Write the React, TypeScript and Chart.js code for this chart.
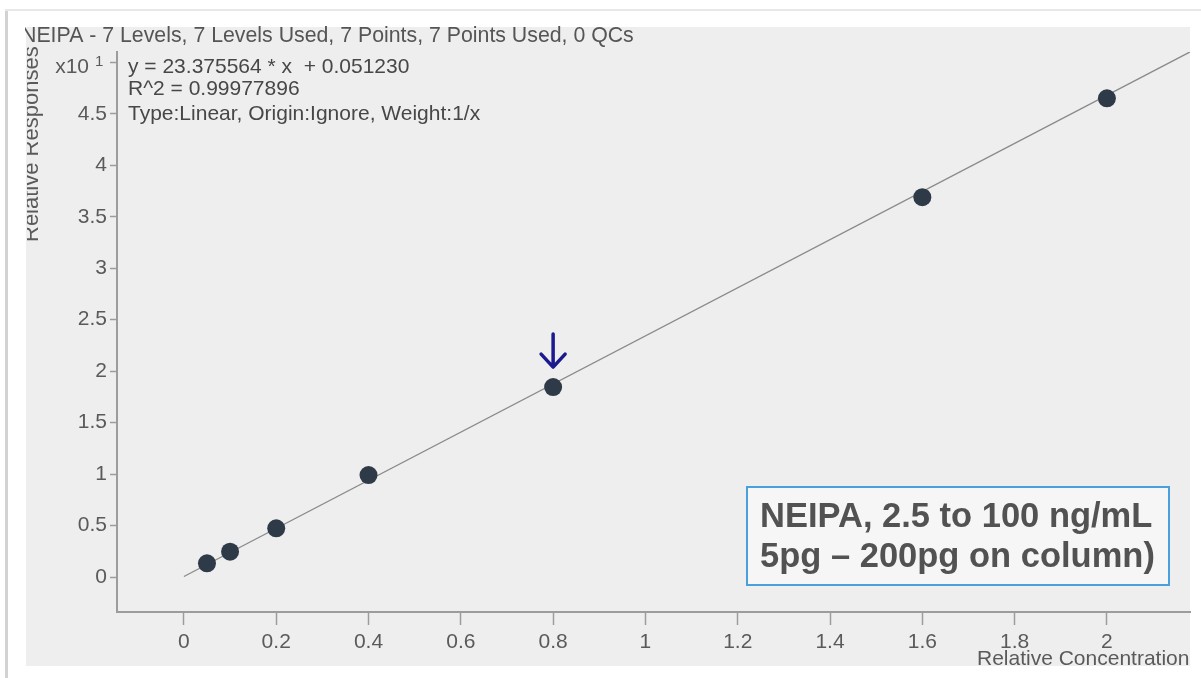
import React, { useEffect, useRef } from 'react';
import { Chart, registerables } from 'chart.js';

Chart.register(...registerables);

// ---- data ----
const concentrations = [0.05, 0.1, 0.2, 0.4, 0.8, 1.6, 2.0];
const responses = [0.133, 0.246, 0.473, 0.99, 1.845, 3.69, 4.65]; // shown in units of x10^1
const fitSlope = 2.3375564; // 23.375564 on the x10^1 axis
const fitIntercept = 0.005123; // 0.051230 on the x10^1 axis
const xTicks = [0, 0.2, 0.4, 0.6, 0.8, 1, 1.2, 1.4, 1.6, 1.8, 2];
const yTicks = [0, 0.5, 1, 1.5, 2, 2.5, 3, 3.5, 4, 4.5, 5];
const xRange = [-0.145, 2.18];
const yRange = [-0.34, 5.1];
const highlightIndex = 4;

const titleText = 'NEIPA - 7 Levels, 7 Levels Used, 7 Points, 7 Points Used, 0 QCs';
const equationLines = [
  'y = 23.375564 * x  + 0.051230',
  'R^2 = 0.99977896',
  'Type:Linear, Origin:Ignore, Weight:1/x',
];
const xAxisTitle = 'Relative Concentration';
const yAxisTitle = 'Relative Responses';
const exponentBase = 'x10';
const exponentPower = '1';
const boxLines = ['NEIPA, 2.5 to 100 ng/mL', '5pg \u2013 200pg on column)'];

const FONT = '"Liberation Sans", Arial, sans-serif';

const decorPlugin = {
  id: 'decor',
  beforeDraw(chart: any) {
    const ctx = chart.ctx;
    ctx.save();
    ctx.fillStyle = '#ffffff';
    ctx.fillRect(0, 0, chart.width, chart.height);
    // panel
    ctx.fillStyle = '#eeeeee';
    ctx.fillRect(26, 27, 1164, 639);
    // frame lines
    ctx.fillStyle = '#d2d2d2';
    ctx.fillRect(5, 10, 3, chart.height - 10);
    ctx.fillStyle = '#e8e8e8';
    ctx.fillRect(5, 9, chart.width - 5, 2);
    ctx.restore();
  },
  afterDraw(chart: any) {
    const ctx = chart.ctx;
    const xs = chart.scales.x;
    const ys = chart.scales.y;
    ctx.save();

    // title (clipped at panel left)
    ctx.save();
    ctx.beginPath();
    ctx.rect(25, 0, chart.width, chart.height);
    ctx.clip();
    ctx.fillStyle = '#555555';
    ctx.font = `21.3px ${FONT}`;
    ctx.textBaseline = 'middle';
    ctx.textAlign = 'left';
    ctx.fillText(titleText, 21, 36);
    ctx.restore();

    // equation text
    ctx.fillStyle = '#474747';
    ctx.font = `21px ${FONT}`;
    ctx.textBaseline = 'middle';
    ctx.textAlign = 'left';
    const eqY = [67, 89, 114];
    equationLines.forEach((t, i) => ctx.fillText(t, 128, eqY[i]));

    // exponent label at top tick
    const ty = ys.getPixelForValue(yTicks[yTicks.length - 1]);
    ctx.fillStyle = '#5a5a5a';
    ctx.textAlign = 'right';
    ctx.font = `21px ${FONT}`;
    ctx.fillText(exponentBase, 89, ty + 5);
    ctx.font = `15px ${FONT}`;
    ctx.textAlign = 'left';
    ctx.fillText(exponentPower, 95, ty);

    // axis titles, clipped to panel
    ctx.save();
    ctx.beginPath();
    ctx.rect(27, 27, 1163, 645);
    ctx.clip();
    ctx.fillStyle = '#5a5a5a';
    ctx.font = `21px ${FONT}`;
    ctx.textBaseline = 'middle';
    ctx.textAlign = 'left';
    ctx.fillText(xAxisTitle, 977, 659);
    ctx.font = `22px ${FONT}`;
    ctx.translate(38, 242);
    ctx.rotate(-Math.PI / 2);
    ctx.textBaseline = 'alphabetic';
    ctx.fillText(yAxisTitle, 0, 0);
    ctx.restore();

    // annotation box
    ctx.fillStyle = '#f6f6f6';
    ctx.fillRect(747, 487, 422, 98);
    ctx.strokeStyle = '#4aa0da';
    ctx.lineWidth = 2;
    ctx.strokeRect(747, 487, 422, 98);
    ctx.fillStyle = '#525252';
    ctx.font = `bold 34.5px ${FONT}`;
    ctx.textAlign = 'left';
    ctx.textBaseline = 'alphabetic';
    ctx.fillText(boxLines[0], 760, 527);
    ctx.fillText(boxLines[1], 760, 567);

    // arrow above highlighted point
    const px = xs.getPixelForValue(concentrations[highlightIndex]);
    const py = ys.getPixelForValue(responses[highlightIndex]);
    const tip = py - 20;
    ctx.strokeStyle = '#1b1b8f';
    ctx.lineWidth = 3.5;
    ctx.lineCap = 'round';
    ctx.lineJoin = 'round';
    ctx.beginPath();
    ctx.moveTo(px, py - 53);
    ctx.lineTo(px, tip);
    ctx.moveTo(px - 12, tip - 13);
    ctx.lineTo(px, tip);
    ctx.lineTo(px + 12, tip - 13);
    ctx.stroke();

    ctx.restore();
  },
};

export default function App() {
  const ref = useRef<HTMLCanvasElement | null>(null);

  useEffect(() => {
    document.body.style.margin = '0';
    const canvas = ref.current;
    if (!canvas) return;
    const fitLine = [
      { x: 0, y: fitIntercept },
      { x: xRange[1], y: fitIntercept + fitSlope * xRange[1] },
    ];
    const points = concentrations.map((c, i) => ({ x: c, y: responses[i] }));

    const chart = new Chart(canvas, {
      type: 'scatter',
      data: {
        datasets: [
          {
            type: 'line',
            data: fitLine,
            borderColor: '#8a8a8a',
            borderWidth: 1.3,
            pointRadius: 0,
            fill: false,
            order: 2,
          } as any,
          {
            type: 'scatter',
            data: points,
            backgroundColor: '#2f3a48',
            borderColor: '#2f3a48',
            borderWidth: 0,
            pointRadius: 9,
            pointHoverRadius: 9,
            order: 1,
          } as any,
        ],
      },
      options: {
        animation: false,
        responsive: false,
        devicePixelRatio: 1,
        layout: { padding: { left: 0, top: 52, right: 11, bottom: 0 } },
        plugins: {
          legend: { display: false },
          tooltip: { enabled: false },
        },
        scales: {
          x: {
            type: 'linear',
            min: xRange[0],
            max: xRange[1],
            afterBuildTicks: (s: any) => {
              s.ticks = xTicks.map((v) => ({ value: v }));
            },
            afterFit: (s: any) => {
              s.height = 66;
            },
            ticks: {
              autoSkip: false,
              maxRotation: 0,
              padding: 5,
              color: '#5a5a5a',
              font: { size: 21, family: FONT },
              callback: (v: any) => String(v),
            },
            grid: {
              drawOnChartArea: false,
              drawTicks: true,
              tickLength: 13,
              tickColor: '#9c9c9c',
              tickWidth: 1.5,
            },
            border: { color: '#9c9c9c', width: 2 },
          },
          y: {
            type: 'linear',
            min: yRange[0],
            max: yRange[1],
            afterBuildTicks: (s: any) => {
              s.ticks = yTicks.map((v) => ({ value: v }));
            },
            afterFit: (s: any) => {
              s.width = 117;
            },
            ticks: {
              autoSkip: false,
              padding: 3,
              color: '#5a5a5a',
              font: { size: 21, family: FONT },
              callback: (v: any) => (v === yTicks[yTicks.length - 1] ? '' : String(v)),
            },
            grid: {
              drawOnChartArea: false,
              drawTicks: true,
              tickLength: 7,
              tickColor: '#9c9c9c',
              tickWidth: 1.5,
            },
            border: { color: '#9c9c9c', width: 2 },
          },
        },
      } as any,
      plugins: [decorPlugin],
    });
    return () => chart.destroy();
  }, []);

  return (
    <div style={{ position: 'fixed', left: 0, top: 0, width: 1201, height: 678 }}>
      <canvas ref={ref} width={1201} height={678} style={{ display: 'block' }} />
    </div>
  );
}
